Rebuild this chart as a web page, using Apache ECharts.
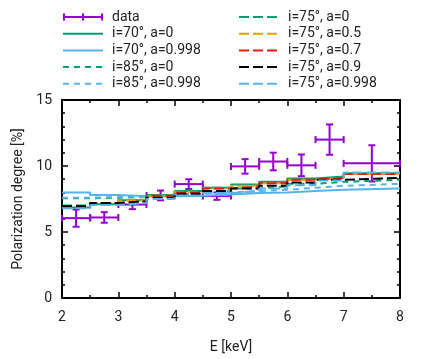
<!DOCTYPE html>
<html><head><meta charset="utf-8">
<script src="https://cdn.jsdelivr.net/npm/echarts@6/dist/echarts.min.js"></script>
<style>html,body{margin:0;padding:0;background:#fff}#c{width:424px;height:359px}</style>
</head><body><div id="c"></div>
<script>
// Observed data
const dataE = [2.25, 2.75, 3.25, 3.75, 4.25, 4.75, 5.25, 5.75, 6.25, 6.75, 7.5];
const dataEerr = [0.25, 0.25, 0.25, 0.25, 0.25, 0.25, 0.25, 0.25, 0.25, 0.25, 0.5];
const dataP = [6.05, 6.1, 7.08, 7.77, 8.63, 7.72, 9.97, 10.34, 10.05, 12.0, 10.2];
const dataPerr = [0.65, 0.4, 0.35, 0.37, 0.37, 0.28, 0.55, 0.67, 0.82, 1.15, 1.37];
// Model bins (edges)
const binEdges = [2, 2.5, 3, 3.5, 4, 4.5, 5, 5.5, 6, 6.5, 7, 8];
// Model values per bin
const i70a0 = [6.85, 7.1, 7.4, 7.8, 8.1, 8.35, 8.6, 8.8, 9.05, 9.2, 9.45];
const i70a0998 = [8.0, 7.8, 7.7, 7.7, 7.75, 7.85, 7.95, 8.0, 8.1, 8.2, 8.3];
const i85a0 = [7.55, 7.6, 7.7, 7.8, 7.95, 8.1, 8.3, 8.45, 8.65, 8.8, 8.95];
const i85a0998 = [7.6, 7.65, 7.72, 7.8, 7.9, 8.0, 8.1, 8.2, 8.35, 8.5, 8.65];
const i75a0 = [7.0, 7.2, 7.45, 7.8, 8.1, 8.35, 8.55, 8.75, 9.0, 9.15, 9.4];
const i75a05 = [6.95, 7.2, 7.4, 7.75, 8.05, 8.3, 8.5, 8.7, 8.95, 9.1, 9.4];
const i75a07 = [6.95, 7.2, 7.35, 7.75, 8.0, 8.3, 8.45, 8.7, 8.95, 9.1, 9.4];
const i75a09 = [6.95, 7.2, 7.3, 7.6, 7.9, 8.1, 8.3, 8.5, 8.75, 8.95, 9.1];
const i75a0998 = [6.8, 7.05, 7.2, 7.5, 7.75, 7.95, 8.1, 8.3, 8.55, 8.9, 9.5];
const xTicks = [2, 3, 4, 5, 6, 7, 8];
const yTicks = [0, 5, 10, 15];

const FONT = 'Roboto';
function stepData(vals) {
  const out = binEdges.slice(0, vals.length).map((e, i) => [e, vals[i]]);
  out.push([binEdges[vals.length], vals[vals.length - 1]]);
  return out;
}
const GREEN = '#009E73', LBLUE = '#56B4E9', ORANGE = '#E69F00', RED = '#E51E10', BLACK = '#000000', PURPLE = '#9400D3';
const SHORT = [6, 5], LONG = [10, 4];
const models = [
  {name: 'i=70°, a=0', v: i70a0, c: GREEN, t: 'solid'},
  {name: 'i=70°, a=0.998', v: i70a0998, c: LBLUE, t: 'solid'},
  {name: 'i=85°, a=0', v: i85a0, c: GREEN, t: SHORT},
  {name: 'i=85°, a=0.998', v: i85a0998, c: LBLUE, t: SHORT},
  {name: 'i=75°, a=0', v: i75a0, c: GREEN, t: LONG},
  {name: 'i=75°, a=0.5', v: i75a05, c: ORANGE, t: LONG},
  {name: 'i=75°, a=0.7', v: i75a07, c: RED, t: LONG},
  {name: 'i=75°, a=0.9', v: i75a09, c: BLACK, t: LONG},
  {name: 'i=75°, a=0.998', v: i75a0998, c: LBLUE, t: LONG}
];
const errIcon = 'path://M0,6L40,6L40,8L0,8Z M0,3.5L2,3.5L2,10.5L0,10.5Z M38,3.5L40,3.5L40,10.5L38,10.5Z M19,3.5L21,3.5L21,10.5L19,10.5Z';

const axisCommon = {
  axisLine: {show: true, onZero: false, lineStyle: {color: '#000', width: 2}},
  axisTick: {show: true, inside: true, length: 6, lineStyle: {color: '#000', width: 1.5}},
  minorTick: {show: true, length: 3, lineStyle: {color: '#000', width: 1.5}},
  splitLine: {show: false},
};
const chart = echarts.init(document.getElementById('c'), null, {renderer: 'canvas'});
const series = [{
  name: 'data', type: 'custom', z: 1,
  itemStyle: {color: PURPLE},
  encode: {x: 0, y: 1},
  data: dataE.map((e, i) => [e, dataP[i], dataEerr[i], dataPerr[i]]),
  renderItem: function (params, api) {
    const x = api.value(0), y = api.value(1), xe = api.value(2), ye = api.value(3);
    const pL = api.coord([x - xe, y]), pR = api.coord([x + xe, y]);
    const pT = api.coord([x, y + ye]), pB = api.coord([x, y - ye]);
    const st = {stroke: PURPLE, lineWidth: 2, fill: null};
    const h = 3.5;
    const ln = (x1, y1, x2, y2) => ({type: 'line', shape: {x1, y1, x2, y2}, style: st});
    return {type: 'group', children: [
      ln(pL[0], pL[1], pR[0], pR[1]),
      ln(pT[0], pT[1], pB[0], pB[1]),
      ln(pL[0], pL[1] - h, pL[0], pL[1] + h),
      ln(pR[0], pR[1] - h, pR[0], pR[1] + h),
      ln(pT[0] - h, pT[1], pT[0] + h, pT[1]),
      ln(pB[0] - h, pB[1], pB[0] + h, pB[1])
    ]};
  }
}].concat(models.map(m => ({
  name: m.name, type: 'line', step: 'end', z: 2,
  symbol: 'none', showSymbol: false,
  lineStyle: {color: m.c, width: 2, type: m.t},
  itemStyle: {color: m.c},
  data: stepData(m.v)
})));

const legendCommon = {
  orient: 'vertical', top: 10, itemWidth: 40, itemHeight: 14, itemGap: 2.7, padding: 0,
  textStyle: {fontFamily: FONT, fontSize: 14, color: '#222', padding: [0, 0, 0, 4]},
  selectedMode: false
};
const hideSym = n => ({name: n, itemStyle: {opacity: 0}});
chart.setOption({
  animation: false,
  grid: {left: 62, right: 24, top: 100, bottom: 55},
  legend: [
    Object.assign({}, legendCommon, {left: 62, data: [{name: 'data', icon: errIcon}].concat(models.slice(0, 4).map(m => hideSym(m.name)))}),
    Object.assign({}, legendCommon, {left: 238, data: models.slice(4).map(m => hideSym(m.name))})
  ],
  xAxis: [
    Object.assign({}, axisCommon, {type: 'value', min: xTicks[0], max: xTicks[xTicks.length - 1], interval: 1,
      minorTick: Object.assign({}, axisCommon.minorTick, {splitNumber: 2}),
      name: 'E [keV]', nameLocation: 'middle', nameGap: 42,
      nameTextStyle: {fontFamily: FONT, fontSize: 14, color: '#222'},
      axisLabel: {fontFamily: FONT, fontSize: 14, color: '#222', margin: 12}}),
    Object.assign({}, axisCommon, {type: 'value', position: 'top', min: xTicks[0], max: xTicks[xTicks.length - 1], interval: 1,
      minorTick: Object.assign({}, axisCommon.minorTick, {splitNumber: 2}),
      axisLabel: {show: false}})
  ],
  yAxis: [
    Object.assign({}, axisCommon, {type: 'value', min: yTicks[0], max: yTicks[yTicks.length - 1], interval: 5,
      minorTick: Object.assign({}, axisCommon.minorTick, {splitNumber: 5}),
      name: 'Polarization degree [%]', nameLocation: 'middle', nameGap: 31,
      nameTextStyle: {fontFamily: FONT, fontSize: 14, color: '#222'},
      axisLabel: {fontFamily: FONT, fontSize: 14, color: '#222', margin: 10}}),
    Object.assign({}, axisCommon, {type: 'value', position: 'right', min: yTicks[0], max: yTicks[yTicks.length - 1], interval: 5,
      minorTick: Object.assign({}, axisCommon.minorTick, {splitNumber: 5}),
      axisLabel: {show: false}})
  ],
  series: series
});
</script></body></html>
